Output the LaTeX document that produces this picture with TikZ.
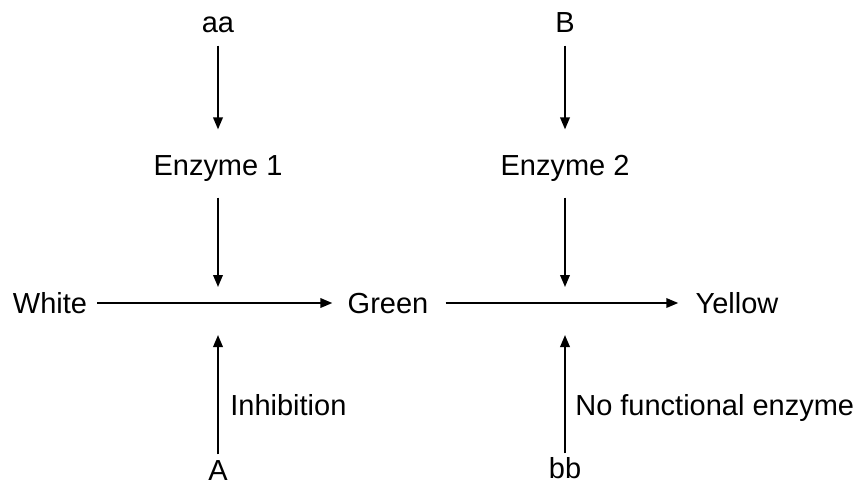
\documentclass[tikz,border=0pt]{standalone}
\usepackage{fontspec}
\setmainfont{Liberation Sans}
\usetikzlibrary{arrows.meta}
\begin{document}
\begin{tikzpicture}[x=0.02cm,y=-0.02cm,
  every node/.style={inner sep=0pt,text height=0.41cm,text depth=0pt,font=\fontsize{16.5}{19}\selectfont},
  arr/.style={-{Triangle[length=2.4mm,width=1.9mm]},line width=1.1pt}]
\useasboundingbox (0,0) rectangle (862,488);
% top row
\node (v1) at (218,22) {aa};
\node (v5) at (565,22) {B};
\node (v2) at (218,165) {Enzyme 1};
\node (v6) at (565,165) {Enzyme 2};
% pathway
\node (v3) at (50,303) {White};
\node (v4) at (388,303) {Green};
\node (v7) at (737,303) {Yellow};
\coordinate (c1) at (218,287);
\coordinate (c2) at (565,287);
\coordinate (c3) at (218,335);
\coordinate (c4) at (565,335);
% bottom row
\node (v8) at (218,470) {A};
\node (v9) at (565,468) {bb};
\node[anchor=west] (l1) at (230,405) {Inhibition};
\node[anchor=west] (l2) at (575,405) {No functional enzyme};
\draw[arr,shorten <=0.26cm,shorten >=0.5cm] (v1) -- (v2);
\draw[arr,shorten <=0.26cm,shorten >=0.5cm] (v5) -- (v6);
\draw[arr,shorten <=0.44cm] (v2) -- (c1);
\draw[arr,shorten <=0.44cm] (v6) -- (c2);
\draw[arr,shorten <=0.2cm,shorten >=0.3cm] (v3) -- (v4);
\draw[arr,shorten <=0.34cm,shorten >=0.34cm] (v4) -- (v7);
\draw[arr,shorten <=0.1cm] (v8) -- (c3);
\draw[arr,shorten <=0.08cm] (v9) -- (c4);
\end{tikzpicture}
\end{document}
